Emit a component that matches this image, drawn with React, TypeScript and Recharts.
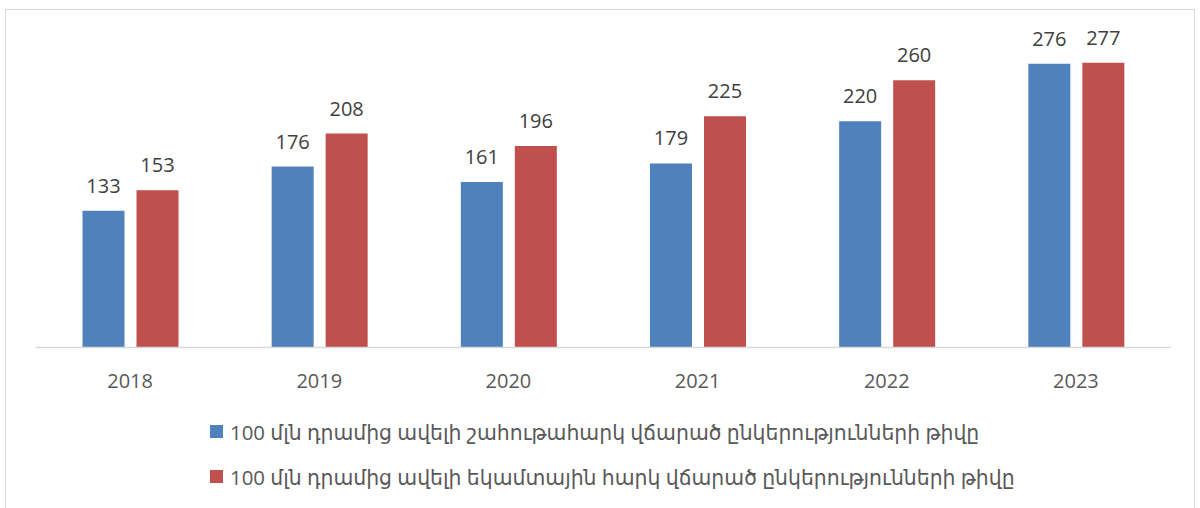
import React from "react";
import { BarChart, Bar, XAxis, YAxis, LabelList } from "recharts";

const years = ["2018", "2019", "2020", "2021", "2022", "2023"];
const profitTax = [133, 176, 161, 179, 220, 276];
const incomeTax = [153, 208, 196, 225, 260, 277];
const seriesNames = [
  "100 մլն դրամից ավելի շահութահարկ վճարած ընկերությունների թիվը",
  "100 մլն դրամից ավելի եկամտային հարկ վճարած ընկերությունների թիվը",
];
const colors = ["#4F81BD", "#C0504D"];

const data = years.map((year, i) => ({
  year,
  profit: profitTax[i],
  income: incomeTax[i],
}));

const font = "'Open Sans', 'DejaVu Sans', sans-serif";

function LegendBox() {
  return (
    <div
      style={{
        position: "absolute",
        left: 210,
        top: 409,
        fontFamily: font,
        fontSize: 20.4,
        color: "#595959",
      }}
    >
      {seriesNames.map((name, i) => (
        <div
          key={name}
          style={{ display: "flex", alignItems: "center", height: 45, whiteSpace: "nowrap" }}
        >
          <span
            style={{ width: 13, height: 13, background: colors[i], marginRight: 7, display: "inline-block" }}
          />
          <span>{name}</span>
        </div>
      ))}
    </div>
  );
}

export default function App() {
  return (
    <div style={{ position: "absolute", left: 0, top: 0, width: 1200, height: 508, background: "#fff", overflow: "hidden" }}>
      <div
        style={{
          position: "absolute",
          left: 5,
          top: 9,
          width: 1190,
          height: 520,
          border: "1.5px solid #d9d9d9",
          boxSizing: "border-box",
        }}
      />
      <div style={{ position: "absolute", left: 0, top: 0 }}>
        <BarChart
          width={1200}
          height={508}
          data={data}
          margin={{ top: 39, right: 29.5, left: 35.5, bottom: 130.5 }}
          barSize={42}
          barGap={12}
        >
          <XAxis
            dataKey="year"
            axisLine={{ stroke: "#d9d9d9", strokeWidth: 1.5 }}
            tickLine={false}
            tickSize={0}
            tickMargin={26}
            tick={{ fill: "#595959", fontSize: 20, fontFamily: font }}
          />
          <YAxis hide domain={[0, 300]} />
          <Bar dataKey="profit" name={seriesNames[0]} fill={colors[0]} isAnimationActive={false}>
            <LabelList dataKey="profit" position="top" offset={18} fill="#404040" fontSize={20} fontFamily={font} />
          </Bar>
          <Bar dataKey="income" name={seriesNames[1]} fill={colors[1]} isAnimationActive={false}>
            <LabelList dataKey="income" position="top" offset={18} fill="#404040" fontSize={20} fontFamily={font} />
          </Bar>
        </BarChart>
      </div>
      <LegendBox />
    </div>
  );
}
